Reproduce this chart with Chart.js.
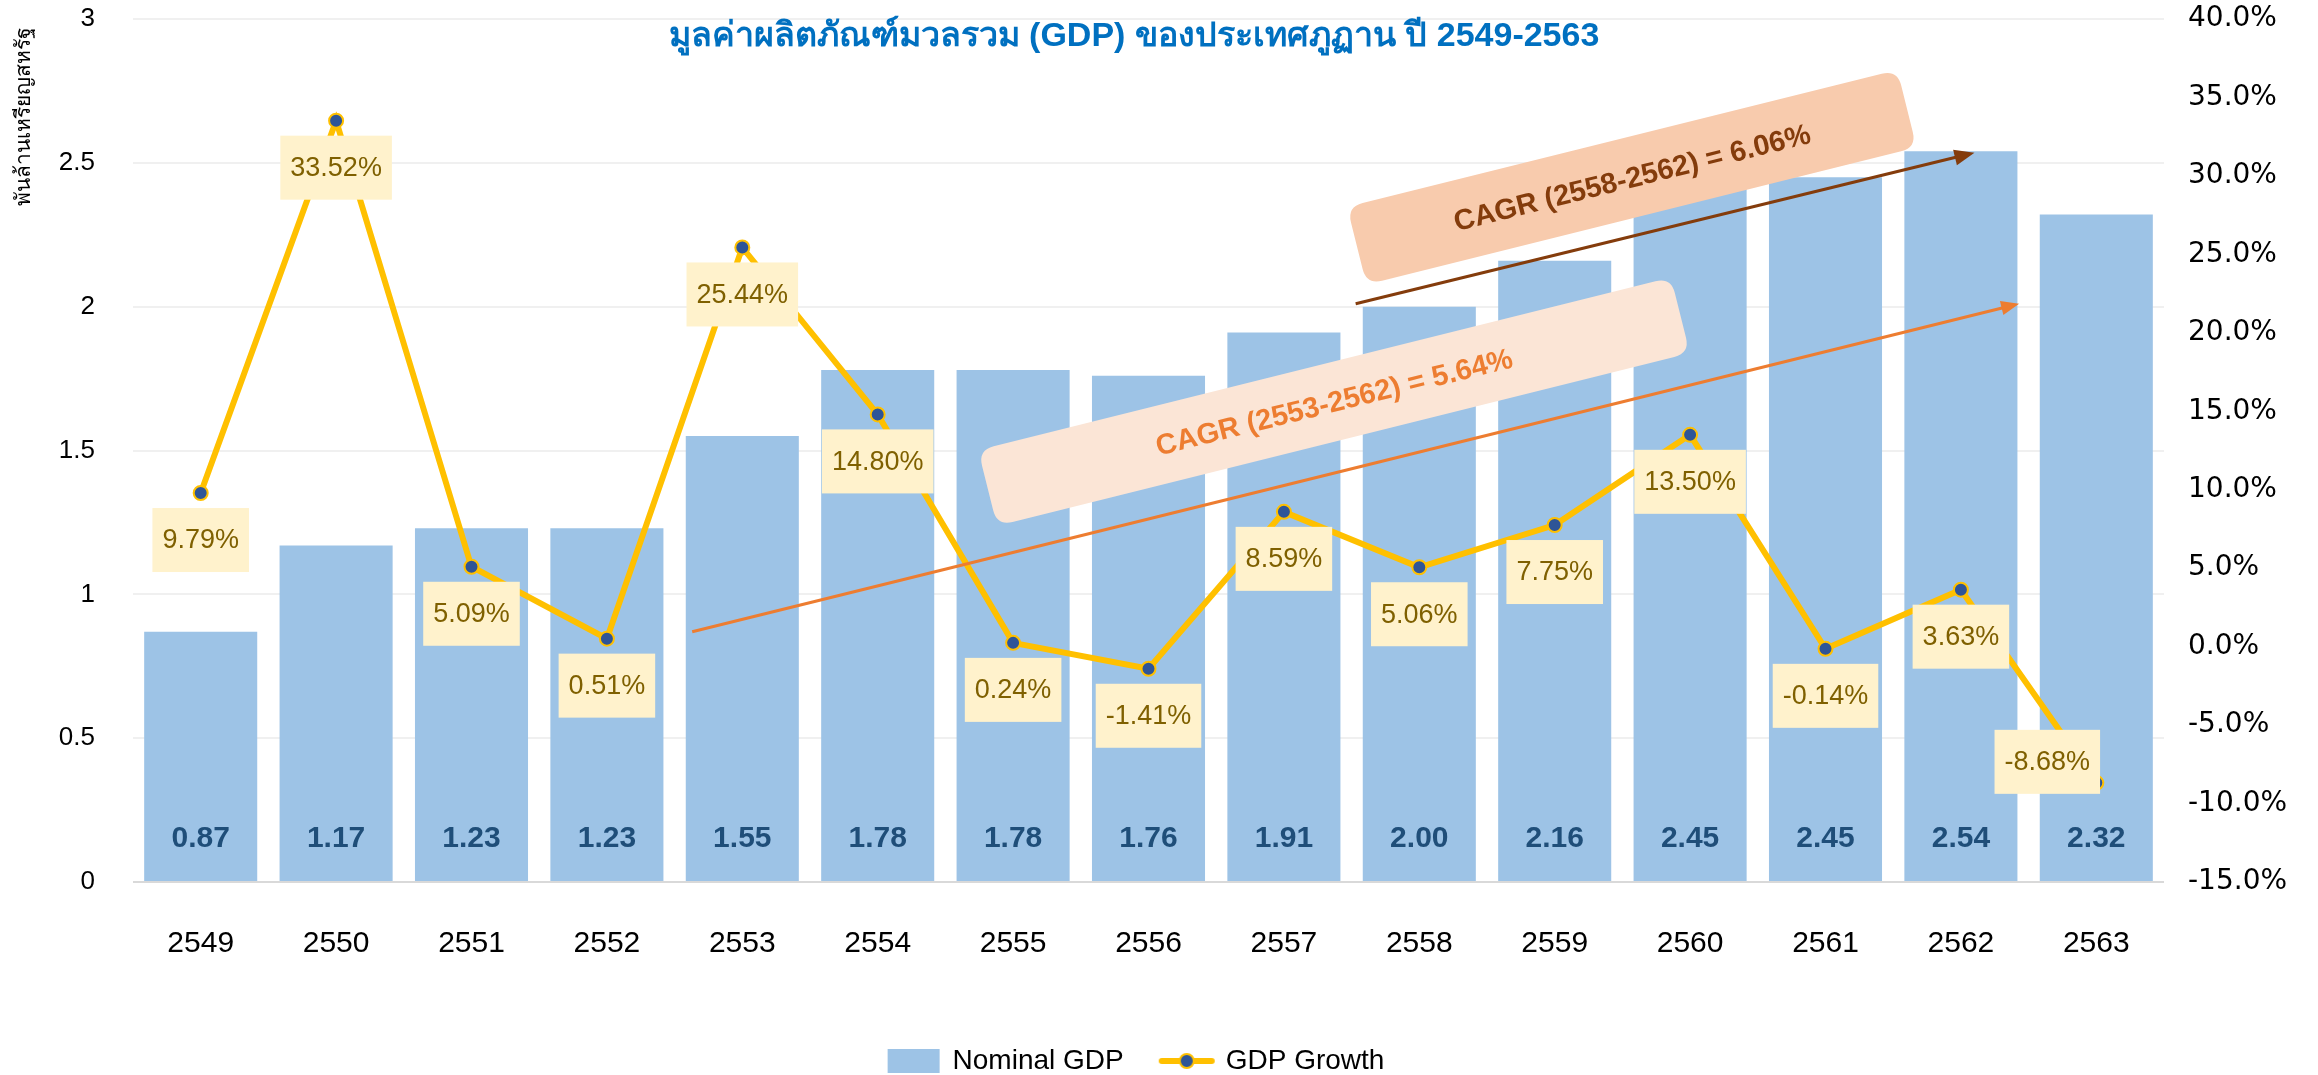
<!DOCTYPE html>
<html>
<head>
<meta charset="utf-8">
<script src="https://cdn.jsdelivr.net/npm/chart.js@4/dist/chart.umd.min.js"></script>
<style>
  html, body { margin: 0; padding: 0; background: #fff; }
</style>
</head>
<body>
<canvas id="gdpChart" width="2318" height="1075"></canvas>
<script>
const FONT = "'Liberation Sans', Arial, sans-serif";

let years = ['2549', '2550', '2551', '2552', '2553', '2554', '2555', '2556', '2557', '2558', '2559', '2560', '2561', '2562', '2563'];
let nominalGdp = [0.87, 1.17, 1.23, 1.23, 1.55, 1.78, 1.78, 1.76, 1.91, 2.00, 2.16, 2.45, 2.45, 2.54, 2.32];
let gdpGrowth = [9.79, 33.52, 5.09, 0.51, 25.44, 14.80, 0.24, -1.41, 8.59, 5.06, 7.75, 13.50, -0.14, 3.63, -8.68];

let seriesNames = ['Nominal GDP', 'GDP Growth'];
let cagrText = ['CAGR (2553-2562) = 5.64%', 'CAGR (2558-2562) = 6.06%'];
let chartTitle = 'มูลค่าผลิตภัณฑ์มวลรวม (GDP) ของประเทศภูฏาน ปี 2549-2563';
let yTitle = 'พันล้านเหรียญสหรัฐ';

// callouts are placed in data space: [category index, left axis value]
const callouts = [
  { text: cagrText[0], from: [3.63, 0.87], to: [13.43, 2.01], center: [8.37, 1.67], w: 714, h: 78,
    fill: '#FBE5D6', color: '#ED7D31', head: 18 },
  { text: cagrText[1], from: [8.53, 2.01], to: [13.10, 2.535], center: [10.57, 2.45], w: 567, h: 80,
    fill: '#F8CBAD', color: '#843C0C', head: 20 }
];

function legendIcon(kind) {
  const c = document.createElement('canvas');
  c.width = 58; c.height = 26;
  const g = c.getContext('2d');
  if (kind === 'bar') {
    g.fillStyle = '#9DC3E6';
    g.fillRect(3, 1, 52, 24);
  } else {
    g.strokeStyle = '#FFC000';
    g.lineWidth = 6;
    g.lineCap = 'round';
    g.beginPath(); g.moveTo(4, 13); g.lineTo(54, 13); g.stroke();
    g.beginPath(); g.arc(29, 13, 7, 0, Math.PI * 2);
    g.fillStyle = '#2F5597'; g.fill();
    g.lineWidth = 2; g.stroke();
  }
  return c;
}
const icons = [legendIcon('bar'), legendIcon('line')];

function roundRect(ctx, x, y, w, h, r) {
  ctx.beginPath();
  ctx.moveTo(x + r, y);
  ctx.lineTo(x + w - r, y);
  ctx.quadraticCurveTo(x + w, y, x + w, y + r);
  ctx.lineTo(x + w, y + h - r);
  ctx.quadraticCurveTo(x + w, y + h, x + w - r, y + h);
  ctx.lineTo(x + r, y + h);
  ctx.quadraticCurveTo(x, y + h, x, y + h - r);
  ctx.lineTo(x, y + r);
  ctx.quadraticCurveTo(x, y, x + r, y);
  ctx.closePath();
}

function drawArrow(ctx, x1, y1, x2, y2, color, head) {
  const a = Math.atan2(y2 - y1, x2 - x1);
  ctx.save();
  ctx.strokeStyle = color;
  ctx.fillStyle = color;
  ctx.lineWidth = 3;
  ctx.beginPath();
  ctx.moveTo(x1, y1);
  ctx.lineTo(x2 - Math.cos(a) * head * 0.8, y2 - Math.sin(a) * head * 0.8);
  ctx.stroke();
  ctx.translate(x2, y2);
  ctx.rotate(a);
  ctx.beginPath();
  ctx.moveTo(0, 0);
  ctx.lineTo(-head, -head * 0.4);
  ctx.lineTo(-head, head * 0.4);
  ctx.closePath();
  ctx.fill();
  ctx.restore();
}

const overlay = {
  id: 'overlay',
  afterDatasetsDraw(chart) {
    const ctx = chart.ctx;
    const xs = chart.scales.x, ys = chart.scales.y;

    // values inside the bars
    const bars = chart.getDatasetMeta(0).data;
    ctx.save();
    ctx.font = 'bold 30px ' + FONT;
    ctx.fillStyle = '#1F4E79';
    ctx.textAlign = 'center';
    ctx.textBaseline = 'middle';
    bars.forEach((b, i) => {
      ctx.fillText(nominalGdp[i].toFixed(2), b.x, ys.getPixelForValue(0) - 43);
    });
    ctx.restore();

    // CAGR arrows and boxes
    callouts.forEach(c => {
      drawArrow(ctx,
        xs.getPixelForValue(c.from[0]), ys.getPixelForValue(c.from[1]),
        xs.getPixelForValue(c.to[0]), ys.getPixelForValue(c.to[1]),
        c.color, c.head);
      const cx = xs.getPixelForValue(c.center[0]);
      const cy = ys.getPixelForValue(c.center[1]);
      ctx.save();
      ctx.translate(cx, cy);
      ctx.rotate(-14 * Math.PI / 180);
      roundRect(ctx, -c.w / 2, -c.h / 2, c.w, c.h, 16);
      ctx.fillStyle = c.fill;
      ctx.fill();
      ctx.font = 'bold 29px ' + FONT;
      ctx.fillStyle = c.color;
      ctx.textAlign = 'center';
      ctx.textBaseline = 'middle';
      ctx.fillText(c.text, 0, 2);
      ctx.restore();
    });

    // growth labels
    const pts = chart.getDatasetMeta(1).data;
    ctx.save();
    ctx.font = '27px ' + FONT;
    ctx.textAlign = 'center';
    ctx.textBaseline = 'middle';
    pts.forEach((p, i) => {
      const txt = gdpGrowth[i].toFixed(2) + '%';
      let lx = p.x, ly = p.y + 47;
      if (i === pts.length - 1) { lx = p.x - 49; ly = p.y - 21; }
      const w = ctx.measureText(txt).width + 20;
      const h = 64;
      ctx.fillStyle = '#FFF2CC';
      ctx.fillRect(lx - w / 2, ly - h / 2, w, h);
      ctx.fillStyle = '#7F6000';
      ctx.fillText(txt, lx, ly + 1);
    });
    ctx.restore();
  },
  afterDraw(chart) {
    const ctx = chart.ctx;
    ctx.save();
    ctx.font = 'bold 34px ' + FONT;
    ctx.fillStyle = '#0070C0';
    ctx.textAlign = 'center';
    ctx.textBaseline = 'middle';
    ctx.fillText(chartTitle, 1134, 37);

    ctx.translate(24, 27);
    ctx.rotate(-Math.PI / 2);
    ctx.font = '21px ' + FONT;
    ctx.fillStyle = '#000';
    ctx.textAlign = 'right';
    ctx.fillText(yTitle, 0, 0);
    ctx.restore();
  }
};

// keep the tick padding from pushing the plot area down
function trimPadding(s) {
  s.paddingTop = 16;
  s.paddingBottom = 16;
}

let ctx = document.getElementById('gdpChart').getContext('2d');
let chart = new Chart(ctx, {
  type: 'bar',
  data: {
    labels: years,
    datasets: [{
      type: 'bar',
      label: seriesNames[0],
      data: nominalGdp,
      backgroundColor: '#9DC3E6',
      categoryPercentage: 1,
      barPercentage: 0.835,
      yAxisID: 'y',
      order: 2
    }, {
      type: 'line',
      label: seriesNames[1],
      data: gdpGrowth,
      borderColor: '#FFC000',
      borderWidth: 6,
      pointRadius: 7,
      pointBorderWidth: 2,
      pointBackgroundColor: '#2F5597',
      pointBorderColor: '#FFC000',
      tension: 0,
      yAxisID: 'y1',
      order: 1
    }]
  },
  options: {
    responsive: false,
    animation: false,
    devicePixelRatio: 1,
    // the negative left padding only shifts the centred legend
    layout: { padding: { top: 19, left: -45, right: 0, bottom: -10 } },
    plugins: {
      tooltip: { enabled: false },
      legend: {
        position: 'bottom',
        labels: {
          usePointStyle: true,
          pointStyleWidth: 50,
          padding: 38,
          color: '#000',
          font: { size: 28, family: FONT },
          generateLabels: ch => ch.data.datasets.map((ds, i) => ({
            text: ds.label,
            pointStyle: icons[i],
            datasetIndex: i,
            lineWidth: 0,
            hidden: false
          }))
        }
      }
    },
    scales: {
      x: {
        grid: { display: false },
        border: { display: false },
        ticks: { color: '#000', font: { size: 30, family: FONT }, padding: 36 },
        afterFit: s => { s.height = 127; }
      },
      y: {
        position: 'left',
        min: 0, max: 3,
        ticks: {
          stepSize: 0.5, color: '#000', font: { size: 26, family: FONT }, padding: 38,
          callback: v => String(v)
        },
        grid: {
          drawTicks: false,
          lineWidth: 2,
          color: c => c.tick.value === 0 ? '#D9D9D9' : '#F0F0F0'
        },
        border: { display: false },
        afterFit: s => { s.width = 178; trimPadding(s); }
      },
      y1: {
        position: 'right',
        min: -15, max: 40,
        ticks: {
          stepSize: 5, color: '#000', font: { size: 28, family: "'DejaVu Sans', sans-serif" }, padding: 24,
          callback: v => v.toFixed(1) + '%'
        },
        grid: { display: false, drawTicks: false },
        border: { display: false },
        afterFit: s => { s.width = 154; trimPadding(s); }
      }
    }
  },
  plugins: [overlay]
});
</script>
</body>
</html>
